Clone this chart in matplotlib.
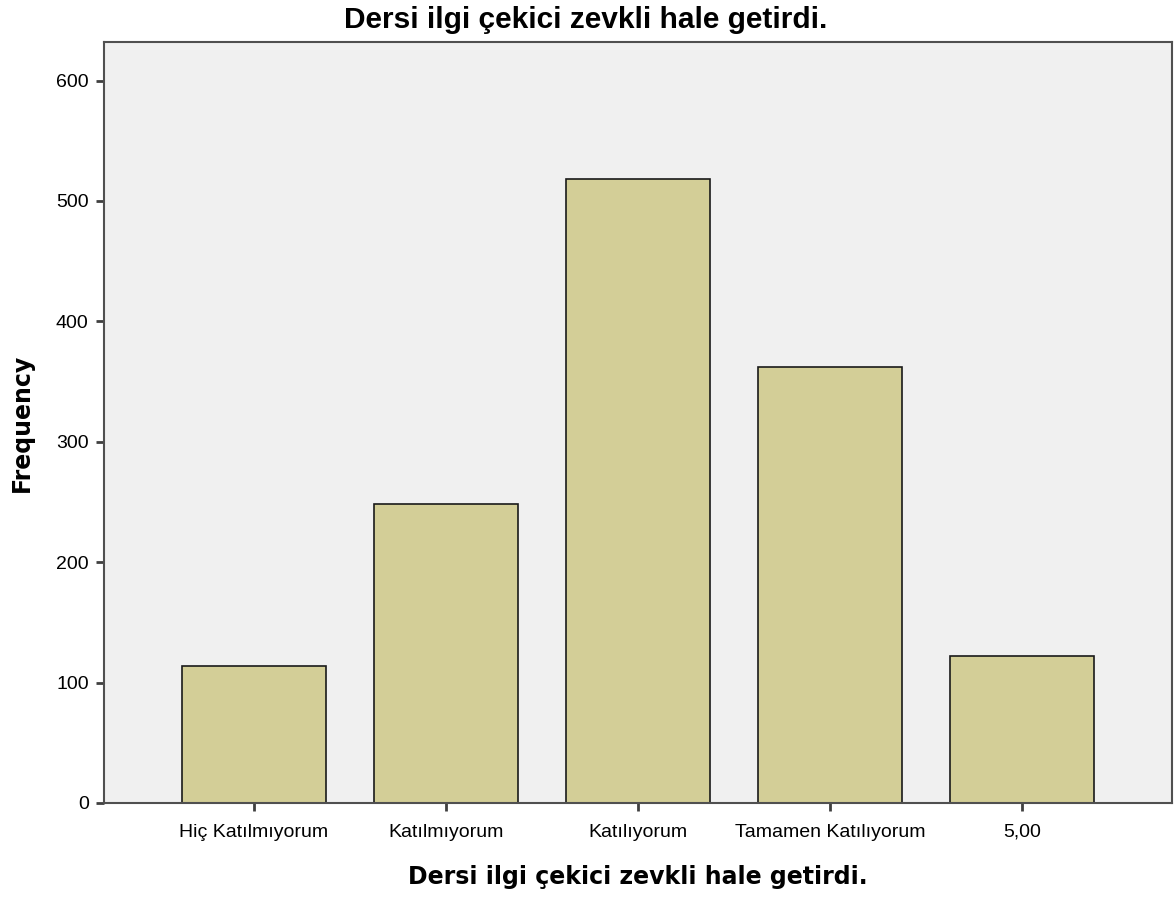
import matplotlib
matplotlib.use('Agg')
import matplotlib.pyplot as plt

# categories and frequencies
categories = ['Hiç Katılmıyorum', 'Katılmıyorum', 'Katılıyorum', 'Tamamen Katılıyorum', '5,00']
frequency = [114, 248, 518, 362, 122]
y_ticks = [0, 100, 200, 300, 400, 500, 600]

title = 'Dersi ilgi çekici zevkli hale getirdi.'

fig = plt.figure(figsize=(11.76, 8.97), dpi=100)
ax = fig.add_axes([0.0884, 0.1048, 0.9082, 0.8484])
ax.set_facecolor('#f0f0f0')

x = range(len(categories))
ax.bar(x, frequency, width=0.75, color='#d3ce97', edgecolor='#1a1a1a', linewidth=1.2)

ax.set_xlim(-0.78, 4.78)
ax.set_ylim(0, 632)
ax.set_yticks(y_ticks)
ax.set_xticks(list(x))
ax.set_xticklabels(categories, fontsize=14, family='Liberation Sans')
ax.set_yticklabels([str(v) for v in y_ticks], fontsize=14, family='Liberation Sans')
ax.tick_params(axis='both', direction='out', length=6, width=2, color='#404040')
ax.tick_params(axis='x', pad=9)
ax.tick_params(axis='y', pad=5)

for s in ax.spines.values():
    s.set_color('#505050')
    s.set_linewidth(1.5)

# title is centred on the figure, axis titles on the plot area
fig.text(0.498, 0.969, title, ha='center', va='baseline', fontsize=21.5,
         fontweight='bold', family='Liberation Sans')
fig.text(0.5425, 0.0145, title, ha='center', va='baseline', fontsize=17,
         fontweight='bold', family='DejaVu Sans')
fig.text(0.0187, 0.529, 'Frequency', ha='center', va='center', rotation=90,
         fontsize=17, fontweight='bold', family='DejaVu Sans')

fig.savefig('out.png', dpi=100)
